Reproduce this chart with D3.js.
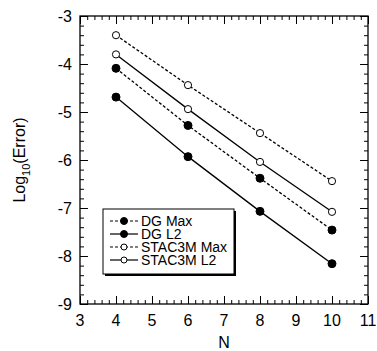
<!DOCTYPE html>
<html>
<head>
<meta charset="utf-8">
<script src="https://cdn.jsdelivr.net/npm/d3@7"></script>
<style>
  body { margin: 0; background: #fff; }
  text { font-family: "Liberation Sans", Arial, sans-serif; }
</style>
</head>
<body>
<div id="chart"></div>
<script>
// data
const nValues = [4, 6, 8, 10];
const dgMax = [-4.09, -5.28, -6.38, -7.46];
const dgL2 = [-4.69, -5.93, -7.07, -8.16];
const stacMax = [-3.40, -4.44, -5.44, -6.44];
const stacL2 = [-3.80, -4.94, -6.04, -7.08];
const xTicks = [3, 4, 5, 6, 7, 8, 9, 10, 11];
const yTicks = [-3, -4, -5, -6, -7, -8, -9];

const series = [
    {name: "DG Max", values: dgMax, dashed: true, filled: true},
    {name: "DG L2", values: dgL2, dashed: false, filled: true},
    {name: "STAC3M Max", values: stacMax, dashed: true, filled: false},
    {name: "STAC3M L2", values: stacL2, dashed: false, filled: false}
];

const width = 377, height = 351;
const margin = {left: 80, right: 9, top: 16, bottom: 47};

let svg = d3.select("#chart").append("svg")
    .attr("width", width)
    .attr("height", height);

let xScale = d3.scaleLinear()
    .domain([3, 11])
    .range([margin.left, width - margin.right]);

let yScale = d3.scaleLinear()
    .domain([-9, -3])
    .range([height - margin.bottom, margin.top]);

//#region axes and ticks
const x0 = xScale(3), x1 = xScale(11), y0 = yScale(-9), y1 = yScale(-3);

let xMinor = d3.range(3, 11.001, 0.2);
let yMinor = d3.range(-9, -2.999, 0.2);

// inward ticks on all four sides
svg.append("g").call(d3.axisTop(xScale).tickValues(xMinor).tickSize(4).tickFormat(""))
    .attr("transform", `translate(0,${y0})`);
svg.append("g").call(d3.axisTop(xScale).tickValues(xTicks).tickSize(8).tickFormat(""))
    .attr("transform", `translate(0,${y0})`);
svg.append("g").call(d3.axisBottom(xScale).tickValues(xMinor).tickSize(4).tickFormat(""))
    .attr("transform", `translate(0,${y1})`);
svg.append("g").call(d3.axisBottom(xScale).tickValues(xTicks).tickSize(8).tickFormat(""))
    .attr("transform", `translate(0,${y1})`);
svg.append("g").call(d3.axisRight(yScale).tickValues(yMinor).tickSize(4).tickFormat(""))
    .attr("transform", `translate(${x0},0)`);
svg.append("g").call(d3.axisRight(yScale).tickValues(yTicks).tickSize(8).tickFormat(""))
    .attr("transform", `translate(${x0},0)`);
svg.append("g").call(d3.axisLeft(yScale).tickValues(yMinor).tickSize(4).tickFormat(""))
    .attr("transform", `translate(${x1},0)`);
svg.append("g").call(d3.axisLeft(yScale).tickValues(yTicks).tickSize(8).tickFormat(""))
    .attr("transform", `translate(${x1},0)`);

svg.selectAll(".domain").remove();
svg.selectAll(".tick line").attr("stroke", "#000").attr("stroke-width", 1);

svg.append("rect")
    .attr("x", x0).attr("y", y1)
    .attr("width", x1 - x0).attr("height", y0 - y1)
    .attr("fill", "none").attr("stroke", "#000").attr("stroke-width", 1.3);

svg.selectAll("text.xlab")
    .data(xTicks)
    .join("text")
    .attr("class", "xlab")
    .attr("x", d => xScale(d))
    .attr("y", y0 + 22)
    .attr("text-anchor", "middle")
    .attr("font-size", 16)
    .text(d => d);

svg.selectAll("text.ylab")
    .data(yTicks)
    .join("text")
    .attr("class", "ylab")
    .attr("x", x0 - 8)
    .attr("y", d => yScale(d) + 6)
    .attr("text-anchor", "end")
    .attr("font-size", 16)
    .text(d => d);

svg.append("text")
    .attr("x", xScale(7))
    .attr("y", 348)
    .attr("text-anchor", "middle")
    .attr("font-size", 16)
    .text("N");

let ylabel = svg.append("text")
    .attr("transform", `translate(25,${(y0 + y1) / 2}) rotate(-90)`)
    .attr("text-anchor", "middle")
    .attr("font-size", 16);
ylabel.append("tspan").text("Log");
ylabel.append("tspan").attr("font-size", 11).attr("dy", 5).text("10");
ylabel.append("tspan").attr("dy", -5).text("(Error)");
//#endregion

//#region lines and markers
let line = d3.line()
    .x((d, i) => xScale(nValues[i]))
    .y(d => yScale(d));

series.forEach(s => {
    svg.append("path")
        .attr("d", line(s.values))
        .attr("fill", "none")
        .attr("stroke", "#000")
        .attr("stroke-width", 1.3)
        .attr("stroke-dasharray", s.dashed ? "3,2" : null);

    svg.selectAll(null)
        .data(s.values)
        .join("circle")
        .attr("cx", (d, i) => xScale(nValues[i]))
        .attr("cy", d => yScale(d))
        .attr("r", s.filled ? 4 : 3.6)
        .attr("fill", s.filled ? "#000" : "#fff")
        .attr("stroke", "#000")
        .attr("stroke-width", 1);
});
//#endregion

//#region legend
const lgX = 103, lgY = 209, lgW = 131, lgH = 65;
svg.append("rect")
    .attr("x", lgX + 2).attr("y", lgY + 2)
    .attr("width", lgW).attr("height", lgH)
    .attr("fill", "#000");
svg.append("rect")
    .attr("x", lgX).attr("y", lgY)
    .attr("width", lgW).attr("height", lgH)
    .attr("fill", "#fff").attr("stroke", "#000").attr("stroke-width", 1);

series.forEach((s, i) => {
    let cy = lgY + 12 + i * 13;
    svg.append("line")
        .attr("x1", lgX + 7).attr("x2", lgX + 35)
        .attr("y1", cy).attr("y2", cy)
        .attr("stroke", "#000").attr("stroke-width", 1.2)
        .attr("stroke-dasharray", s.dashed ? "3,2" : null);
    svg.append("circle")
        .attr("cx", lgX + 21).attr("cy", cy)
        .attr("r", s.filled ? 3.5 : 3)
        .attr("fill", s.filled ? "#000" : "#fff")
        .attr("stroke", "#000");
    svg.append("text")
        .attr("x", lgX + 38).attr("y", cy + 5)
        .attr("font-size", 14)
        .text(s.name);
});
//#endregion
</script>
</body>
</html>
